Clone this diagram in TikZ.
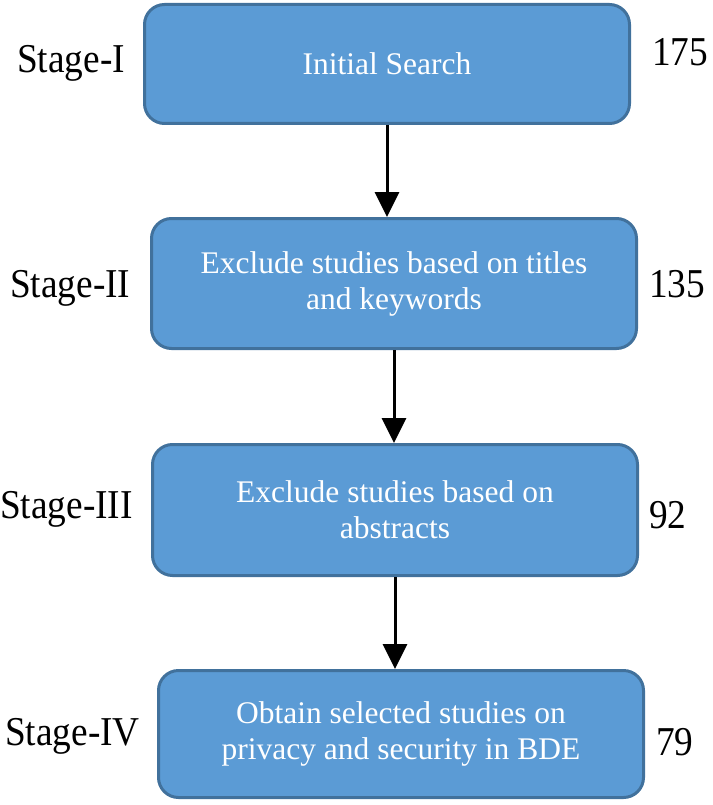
\documentclass[tikz,border=0pt]{standalone}
\usepackage{fontspec}
\setmainfont{Liberation Serif}
\newfontfamily\stagefont[FakeStretch=0.91]{Liberation Serif}
\usetikzlibrary{arrows.meta}
\definecolor{boxfill}{HTML}{5B9BD5}
\definecolor{boxline}{HTML}{41719C}
\newcommand*{\lbl}{\stagefont\fontsize{41}{45}\selectfont}

\begin{document}
\begin{tikzpicture}[x=1pt,y=-1pt,
  stagebox/.style={draw=boxline,fill=boxfill,line width=3pt,rounded corners=20pt,
    minimum width=485pt,text=white,align=center,inner sep=0pt,
    font=\fontsize{31.5}{36}\selectfont},
  stagelabel/.style={anchor=base west,inner sep=0pt,font=\lbl},
  flow/.style={line width=3pt,-{Triangle[length=25pt,width=24pt]}}]
% Page size of the figure
\useasboundingbox (0,0) rectangle (712,805);
% The four screening boxes
\node [stagebox,minimum height=119pt] (search) at (387,64) {Initial Search};
\node [stagebox,minimum height=130pt] (titles) at (394,283.5)
  {Exclude studies based on titles\\and keywords};
\node [stagebox,minimum height=131pt] (abstr) at (395,510)
  {Exclude studies based on\\abstracts};
\node [stagebox,minimum height=127pt] (final) at (401,734)
  {Obtain selected studies on\\privacy and security in BDE};
% Arrows between the stages
\draw [flow] (search) -- (search |- titles.north);
\draw [flow] (titles) -- (titles |- abstr.north);
\draw [flow] (abstr) -- (abstr |- final.north);
% Stage names on the left
\node [stagelabel] (s1) at (17,73) {Stage-I};
\node [stagelabel] (s2) at (10,297) {Stage-II};
\node [stagelabel] (s3) at (0,518) {Stage-III};
\node [stagelabel] (s4) at (5,745) {Stage-IV};
% Number of studies on the right
\node [stagelabel] (n1) at (652,66) {175};
\node [stagelabel] (n2) at (649,297) {135};
\node [stagelabel] (n3) at (649,528) {92};
\node [stagelabel] (n4) at (656,755) {79};
\end{tikzpicture}
\end{document}
